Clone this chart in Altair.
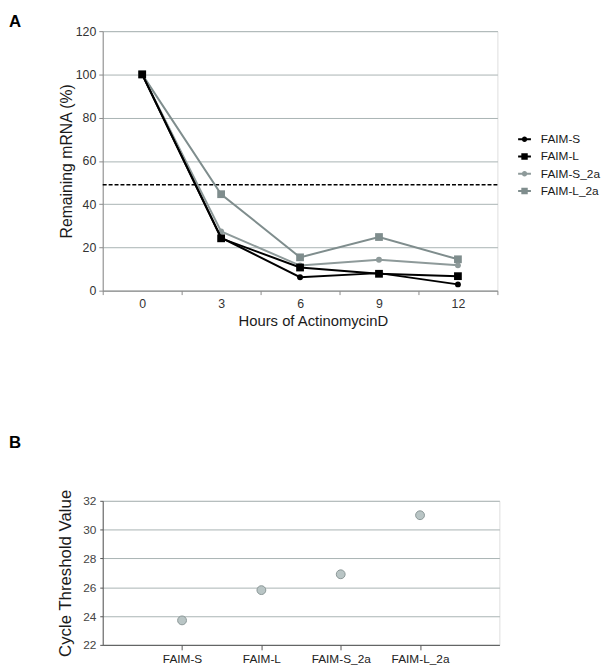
import altair as alt
import pandas as pd

# ---------------- data (panel A) ----------------
hours = [0, 3, 6, 9, 12]
series_names = ["FAIM-S", "FAIM-L", "FAIM-S_2a", "FAIM-L_2a"]
faim_s = [100, 24.5, 6.2, 8.1, 2.9]
faim_l = [100, 24.2, 10.7, 7.8, 6.7]
faim_s_2a = [100, 27.4, 11.6, 14.3, 11.7]
faim_l_2a = [100, 44.6, 15.4, 24.8, 14.5]
threshold = [49]
y_ticks_a = [0, 20, 40, 60, 80, 100, 120]

# ---------------- data (panel B) ----------------
ct_labels = ["FAIM-S", "FAIM-L", "FAIM-S_2a", "FAIM-L_2a"]
ct_values = [23.7, 25.8, 26.9, 31.0]
y_ticks_b = [22, 24, 26, 28, 30, 32]

# ---------------- styling ----------------
series_colors = ["#000000", "#000000", "#8e9a9a", "#7f8d8d"]
series_shapes = ["circle", "square", "circle", "square"]
series_sizes = [36, 62, 36, 62]
grid_color = "#a9b3b3"
font = "Liberation Sans"

line_part = "M-1,-0.15H1V0.15H-1Z"
circle_part = "M-0.42,0A0.42,0.42 0 1,1 0.42,0A0.42,0.42 0 1,1 -0.42,0Z"
square_part = "M-0.5,-0.5H0.5V0.5H-0.5Z"
legend_paths = [line_part + " " + circle_part, line_part + " " + square_part,
                line_part + " " + circle_part, line_part + " " + square_part]

values_by_series = [faim_s, faim_l, faim_s_2a, faim_l_2a]
rows = []
for name, vals in zip(series_names, values_by_series):
    for h, v in zip(hours, vals):
        rows.append({"hours": h, "value": v, "series": name})
df = pd.DataFrame(rows)

X_A = alt.X(
    "hours:O",
    scale=alt.Scale(type="band", domain=hours, paddingInner=0, paddingOuter=0),
    bandPosition=0.5,
    axis=alt.Axis(title="Hours of ActinomycinD", labelAngle=0, tickBand="extent",
                  tickSize=4, labelPadding=3, titlePadding=4, titleX=213,
                  labelFontSize=12.5, titleFontSize=15, domainColor="#8a8a8a",
                  tickColor="#8a8a8a", labelColor="#333333", titleColor="#1a1a1a",
                  grid=False),
)
Y_A = alt.Y(
    "value:Q",
    scale=alt.Scale(domain=[0, 120], nice=False),
    axis=alt.Axis(title="Remaining mRNA (%)", values=y_ticks_a, grid=True,
                  gridColor=grid_color, tickSize=4, labelPadding=3, titlePadding=1,
                  labelFontSize=12.5, titleFontSize=16, domainColor="#8a8a8a",
                  tickColor="#8a8a8a", labelColor="#333333", titleColor="#1a1a1a"),
)

layers = []
rule = alt.Chart(pd.DataFrame({"value": threshold})).mark_rule(
    color="black", strokeDash=[4, 2], strokeWidth=1.6
).encode(y=Y_A)
layers.append(rule)

for idx in [3, 2, 1, 0]:
    name = series_names[idx]
    c = series_colors[idx]
    layers.append(
        alt.Chart(df[df.series == name]).mark_line(
            color=c, strokeWidth=2,
            point=alt.OverlayMarkDef(shape=series_shapes[idx], size=series_sizes[idx],
                                     filled=True, color=c, opacity=1),
        ).encode(x=X_A, y=Y_A)
    )

legend = alt.Legend(title=None, orient="none", legendX=421, legendY=103,
                    symbolSize=169, symbolOpacity=1, symbolStrokeWidth=0,
                    labelFontSize=12, labelColor="#1a1a1a", labelOffset=10,
                    rowPadding=4.5, labelFont=font)
hidden = alt.Chart(df).mark_point(filled=True, opacity=0, size=169).encode(
    x=X_A, y=Y_A,
    color=alt.Color("series:N", scale=alt.Scale(domain=series_names, range=series_colors),
                    legend=legend),
    shape=alt.Shape("series:N", scale=alt.Scale(domain=series_names, range=legend_paths),
                    legend=legend),
)
layers.append(hidden)

letter_a = alt.Chart(alt.Data(values=[{"t": "A"}])).mark_text(
    fontSize=17, fontWeight="bold", align="left", baseline="top", font=font, color="black"
).encode(x=alt.value(-95), y=alt.value(-17), text="t:N")
layers.append(letter_a)

chart_a = alt.layer(*layers).properties(width=400, height=263)

# ---------------- panel B ----------------
df_ct = pd.DataFrame({"label": ct_labels, "ct": ct_values})
points_b = alt.Chart(df_ct).mark_point(
    filled=True, size=80, fill="#b9c5c5", stroke="#8a9696", strokeWidth=1, opacity=1
).encode(
    x=alt.X("label:N", sort=ct_labels, scale=alt.Scale(type="point", padding=1),
            axis=alt.Axis(title=None, labelAngle=0, tickSize=5, labelPadding=4,
                          labelFontSize=12, domainColor="#555555", tickColor="#555555",
                          labelColor="#222222", grid=False)),
    y=alt.Y("ct:Q", scale=alt.Scale(domain=[22, 32], nice=False),
            axis=alt.Axis(title="Cycle Threshold Value", values=y_ticks_b, grid=True,
                          gridColor=grid_color, tickSize=3, labelPadding=4,
                          titlePadding=8, labelFontSize=12, titleFontSize=17,
                          domainColor="#555555", tickColor="#555555",
                          labelColor="#444444", titleColor="#1a1a1a")),
)
letter_b = alt.Chart(alt.Data(values=[{"t": "B"}])).mark_text(
    fontSize=17, fontWeight="bold", align="left", baseline="top", font=font, color="black"
).encode(x=alt.value(-95), y=alt.value(-67), text="t:N")
chart_b = alt.layer(points_b, letter_b).properties(width=402, height=146)

chart = alt.vconcat(chart_a, chart_b, spacing=105).properties(
    padding={"left": 0, "top": 0, "right": 0, "bottom": 0}
).configure_view(stroke=None).configure(font=font).configure_axis(
    titleFontWeight="normal", labelFont=font, titleFont=font
)

chart.save("out.html", embed_options={"renderer": "svg", "actions": False})
